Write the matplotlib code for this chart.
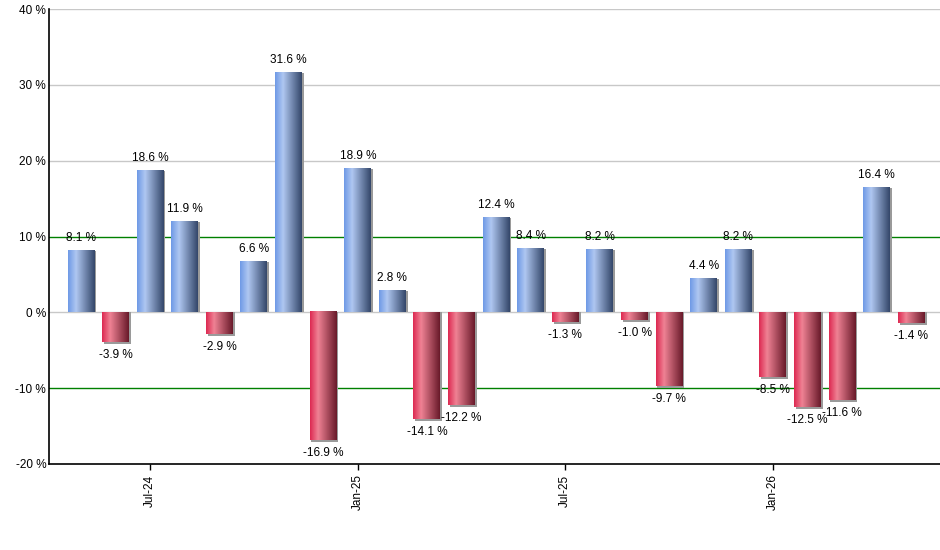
import numpy as np
import matplotlib
matplotlib.use("Agg")
import matplotlib.pyplot as plt
from matplotlib.colors import to_rgb

months = ["May-24", "Jun-24", "Jul-24", "Aug-24", "Sep-24", "Oct-24", "Nov-24",
          "Dec-24", "Jan-25", "Feb-25", "Mar-25", "Apr-25", "May-25", "Jun-25",
          "Jul-25", "Aug-25", "Sep-25", "Oct-25", "Nov-25", "Dec-25", "Jan-26",
          "Feb-26", "Mar-26", "Apr-26", "May-26"]
returns = [8.1, -3.9, 18.6, 11.9, -2.9, 6.6, 31.6, -16.9, 18.9, 2.8, -14.1, -12.2,
           12.4, 8.4, -1.3, 8.2, -1.0, -9.7, 4.4, 8.2, -8.5, -12.5, -11.6, 16.4, -1.4]
tick_months = ["Jul-24", "Jan-25", "Jul-25", "Jan-26"]


def gradient(c_left, c_mid, c_right, n=64):
    a, b, c = np.array(to_rgb(c_left)), np.array(to_rgb(c_mid)), np.array(to_rgb(c_right))
    t = np.linspace(0, 1, n)
    out = []
    for v in t:
        if v < 0.3:
            k = v / 0.3
            out.append(a + (b - a) * k)
        else:
            k = (v - 0.3) / 0.7
            out.append(b + (c - b) * k)
    return np.array(out)[None, :, :]


blue = gradient("#6f9ae6", "#afc7f1", "#34476a")
red = gradient("#dd2a52", "#ef8294", "#691a2a")

plt.rcParams['font.family'] = ['Liberation Sans', 'DejaVu Sans']
fig = plt.figure(figsize=(9.4, 5.5), dpi=100)
ax = fig.add_axes([49 / 940, 86 / 550, 891 / 940, 455 / 550])

x = np.arange(len(months))
w = 0.78
for xi, v in zip(x, returns):
    # small grey shadow right/below the bar
    sh_bot = min(0, v) - (0.25 if v < 0 else 0)
    sh_top = max(0, v)
    ax.bar(xi + 0.05, sh_top - sh_bot, bottom=sh_bot, width=w, color="#9a9a9a",
           zorder=2, linewidth=0)
    ax.imshow(blue if v >= 0 else red, extent=(xi - w / 2, xi + w / 2, min(0, v), max(0, v)),
              aspect="auto", interpolation="bilinear", zorder=3)
    if v >= 0:
        ax.text(xi, v + 0.9, f"{v:.1f} %", ha="center", va="bottom", fontsize=8.5, zorder=5)
    else:
        ax.text(xi, v - 0.9, f"{v:.1f} %", ha="center", va="top", fontsize=8.5, zorder=5)

for g in [0, 20, 30, 40]:
    ax.axhline(g, color="#c8c8c8", linewidth=1, zorder=1)
for g in [10, -10]:
    ax.axhline(g, color="#008000", linewidth=1, zorder=1)

ax.set_xlim(-0.925, 24.83)
ax.set_ylim(-20, 40)
ax.set_yticks([-20, -10, 0, 10, 20, 30, 40])
ax.set_yticklabels([f"{t} %" for t in [-20, -10, 0, 10, 20, 30, 40]], fontsize=8.5)
ax.set_xticks([months.index(m) for m in tick_months])
ax.set_xticklabels(tick_months, rotation=90, fontsize=8.5)
ax.tick_params(axis="x", length=4, width=1)
ax.tick_params(axis="y", length=0, pad=2)
for s in ["top", "right"]:
    ax.spines[s].set_visible(False)
for s in ["left", "bottom"]:
    ax.spines[s].set_linewidth(1.2)

fig.savefig("out.png", dpi=100)
